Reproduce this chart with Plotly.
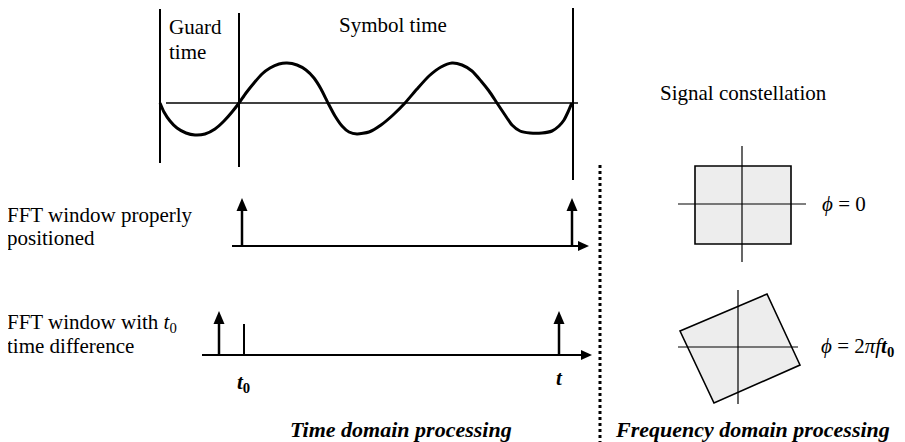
import plotly.graph_objects as go

# ---- data (diagram coordinates, pixel units from the top-left) ----
wave_x = [160, 164, 170, 177, 186, 195, 205, 215, 224, 232, 239,
          246, 254, 262, 270, 279, 287,
          297, 306, 314, 321, 328, 335, 342, 349, 357,
          369, 381, 393, 405, 417, 429, 441, 452,
          462, 472, 481, 489, 497, 505, 512, 520, 530, 542, 552, 559, 564, 568, 571, 572]
wave_y = [103, 112, 121, 128, 133, 135, 134, 129, 121, 112, 103,
          93, 83, 74, 68, 64, 63,
          65, 70, 78, 89, 103, 116, 126, 132, 134,
          132, 125, 115, 103, 89, 76, 67, 63,
          65, 71, 81, 91, 103, 115, 125, 131, 133, 133, 131, 126, 120, 112, 105, 103]

frame_lines_x = [160, 239, 573]
frame_lines_top = [9, 13, 8]
frame_lines_bottom = [163, 167, 180]
wave_axis = [166, 578, 103]  # x0, x1, y

row_baselines_y = [246, 355]
row_baselines_x0 = [232, 202]
row_baselines_tip = [589, 592]
up_arrows_x = [[242, 572], [219, 559]]
up_arrow_tip_y = [198, 311]
t0_marker = [244, 324]  # x, top

divider_x = 600
divider_y = [165, 442]

const_centers = [(742, 204), (738, 347)]
square1 = [(695, 166), (791, 166), (791, 244), (695, 244)]
square2 = [(680, 331), (767, 294), (800, 365), (714, 403)]
cross_half = [(64, 58), (60, 57)]

FONT = "Liberation Serif"
PAGE_MARGIN = 8  # default body margin of the written html page
W, H = 905, 442

fig = go.Figure()

fig.add_trace(go.Scatter(x=wave_x, y=wave_y, mode="lines",
                         line=dict(color="black", width=3, shape="spline", smoothing=0.6),
                         hoverinfo="skip", showlegend=False))

shapes = []
def line(x0, y0, x1, y1, w=2, dash=None, color="black"):
    d = dict(type="line", x0=x0, y0=y0, x1=x1, y1=y1, xref="x", yref="y",
             line=dict(color=color, width=w))
    if dash:
        d["line"]["dash"] = dash
    shapes.append(d)

def poly(pts, fill="black", lw=0, lc="black"):
    p = "M " + " L ".join(f"{x},{y}" for x, y in pts) + " Z"
    shapes.append(dict(type="path", path=p, xref="x", yref="y", fillcolor=fill,
                       line=dict(color=lc, width=lw)))

for x, t, b in zip(frame_lines_x, frame_lines_top, frame_lines_bottom):
    line(x, t, x, b, w=2)
line(wave_axis[0], wave_axis[2], wave_axis[1], wave_axis[2], w=1.3)

for y, x0, tip, ups, ut in zip(row_baselines_y, row_baselines_x0, row_baselines_tip,
                               up_arrows_x, up_arrow_tip_y):
    line(x0, y, tip - 8, y, w=2)
    poly([(tip, y), (tip - 11, y - 5), (tip - 11, y + 5)])
    for ux in ups:
        line(ux, y, ux, ut + 10, w=2.5)
        poly([(ux, ut), (ux - 5.5, ut + 13), (ux + 5.5, ut + 13)])
line(t0_marker[0], row_baselines_y[1], t0_marker[0], t0_marker[1], w=2)

line(divider_x, divider_y[0], divider_x, divider_y[1], w=3, dash="dot")

poly(square1, fill="#ededed", lw=1.6)
poly(square2, fill="#ededed", lw=1.6)
for (cx, cy), (hx, hy) in zip(const_centers, cross_half):
    line(cx - hx, cy, cx + hx, cy, w=1.2)
    line(cx, cy - hy, cx, cy + hy, w=1.2)

annotations = []
def text(x, y, s, size=21, anchor="left"):
    if anchor == "left":
        x -= 2  # annotation box padding
    xp = (x - PAGE_MARGIN) / (W - PAGE_MARGIN)
    yp = (H - y) / (H - PAGE_MARGIN)
    annotations.append(dict(x=xp, y=yp, xref="paper", yref="paper", text=s, showarrow=False,
                            xanchor=anchor, yanchor="middle",
                            font=dict(family=FONT, size=size, color="black")))

text(169, 27, "Guard")
text(169, 52, "time")
text(339, 25, "Symbol time")
text(7, 215, "FFT window properly")
text(7, 238, "positioned")
text(7, 323, "FFT window with <i>t</i><sub>0</sub>")
text(7, 346, "time difference")
text(244, 383, "<b><i>t</i><sub>0</sub></b>", anchor="center")
text(559, 378, "<b><i>t</i></b>", anchor="center")
text(401, 429, "<b><i>Time domain processing</i></b>", size=22, anchor="center")
text(752, 429, "<b><i>Frequency domain processing</i></b>", size=22, anchor="center")
text(743, 93, "Signal constellation", anchor="center")
text(822, 204, "<i>ϕ</i> = 0")
text(821, 347, "<i>ϕ</i> = 2<i>π</i><i>f</i><b><i>t</i><sub>0</sub></b>")

fig.update_layout(
    width=W - PAGE_MARGIN, height=H - PAGE_MARGIN,
    margin=dict(l=0, r=0, t=0, b=0),
    paper_bgcolor="white", plot_bgcolor="white",
    xaxis=dict(range=[PAGE_MARGIN, W], visible=False, fixedrange=True),
    yaxis=dict(range=[H, PAGE_MARGIN], visible=False, fixedrange=True),
    shapes=shapes, annotations=annotations, showlegend=False,
)

fig.write_html("out.html", config={"displayModeBar": False})
